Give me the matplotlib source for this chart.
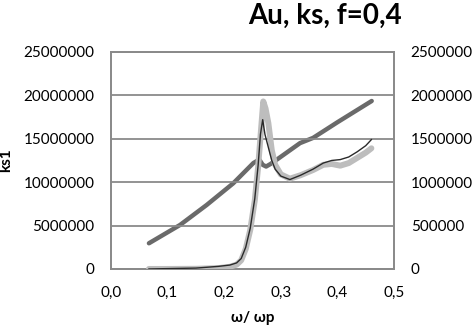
import matplotlib
matplotlib.use("Agg")
import matplotlib.pyplot as plt
from matplotlib.ticker import FuncFormatter, MultipleLocator

plt.rcParams['font.family'] = ['Lato', 'DejaVu Sans']

# ks1 (left axis) - thick light gray curve
w_ks1 = [0.067, 0.10, 0.15, 0.19, 0.21, 0.222, 0.23, 0.238, 0.246, 0.254, 0.260,
         0.265, 0.269, 0.273, 0.278, 0.284, 0.290, 0.300, 0.316, 0.335, 0.357,
         0.375, 0.390, 0.405, 0.420, 0.435, 0.450, 0.460]
ks1 = [0, 0, 20000, 100000, 250000, 500000, 1000000, 2300000, 4500000, 7900000,
       11800000, 16000000, 19300000, 18500000, 16800000, 13700000, 12000000,
       10900000, 10400000, 10800000, 11400000, 12000000, 12100000, 11900000,
       12200000, 12800000, 13400000, 13900000]

# thin dark curve (right axis)
w_ks2 = [0.067, 0.15, 0.19, 0.21, 0.222, 0.23, 0.238, 0.246, 0.254, 0.260, 0.264,
         0.268, 0.272, 0.278, 0.284, 0.290, 0.300, 0.316, 0.335, 0.357, 0.375,
         0.390, 0.405, 0.420, 0.435, 0.450, 0.460]
ks2 = [0, 10000, 30000, 45000, 70000, 120000, 250000, 470000, 810000, 1200000,
       1550000, 1720000, 1550000, 1400000, 1250000, 1150000, 1070000, 1030000,
       1080000, 1150000, 1220000, 1250000, 1260000, 1290000, 1350000, 1420000,
       1490000]

# near-straight dark gray line (right axis)
w_ks3 = [0.067, 0.122, 0.169, 0.216, 0.2515, 0.262, 0.268, 0.274, 0.282, 0.293,
         0.334, 0.357, 0.400, 0.4606]
ks3 = [296000, 507000, 737000, 987000, 1220000, 1260000, 1200000, 1180000,
       1210000, 1260000, 1450000, 1510000, 1690000, 1935000]

fig = plt.figure(figsize=(4.73, 3.28), dpi=100)
ax = fig.add_axes([0.2347, 0.18, 0.5983, 0.6616])
ax2 = ax.twinx()

ax.set_zorder(2)
ax.patch.set_visible(False)

ax2.plot(w_ks3, ks3, color='#6a6a6a', lw=3.2, solid_capstyle='round', zorder=1)
ax.plot(w_ks1, ks1, color='#bdbdbd', lw=4.3, solid_capstyle='round', zorder=3)
ax.plot(w_ks2, [v * 10 for v in ks2], color='#2a2a2a', lw=1.0, zorder=4)

ax.set_xlim(0, 0.5)
ax.set_ylim(0, 25000000)
ax2.set_ylim(0, 2500000)
ax.xaxis.set_major_locator(MultipleLocator(0.1))
ax.yaxis.set_major_locator(MultipleLocator(5000000))
ax2.yaxis.set_major_locator(MultipleLocator(500000))
ax.xaxis.set_major_formatter(FuncFormatter(lambda v, p: f"{v:.1f}".replace('.', ',')))
ax.yaxis.set_major_formatter(FuncFormatter(lambda v, p: f"{int(round(v))}"))
ax2.yaxis.set_major_formatter(FuncFormatter(lambda v, p: f"{int(round(v))}"))

ax.grid(axis='y', color='#8a8a8a', lw=1.3)
ax.set_axisbelow(True)
for a in (ax, ax2):
    for s in a.spines.values():
        s.set_color('#8a8a8a')
        s.set_linewidth(1.3)
    a.tick_params(length=0, labelsize=11, colors='black', pad=12)
ax.tick_params(axis='x', pad=12)

ax.set_xlabel('ω/ ωp', fontsize=11, fontweight='bold', labelpad=8)
ax.set_ylabel('ks1', fontsize=11, fontweight='bold')
ax.yaxis.set_label_coords(-0.345, 0.5)
fig.text(0.687, 0.952, 'Au, ks, f=0,4', fontsize=20, fontweight='bold',
         ha='center', va='center')

fig.savefig('out.png', dpi=100, facecolor='white')
